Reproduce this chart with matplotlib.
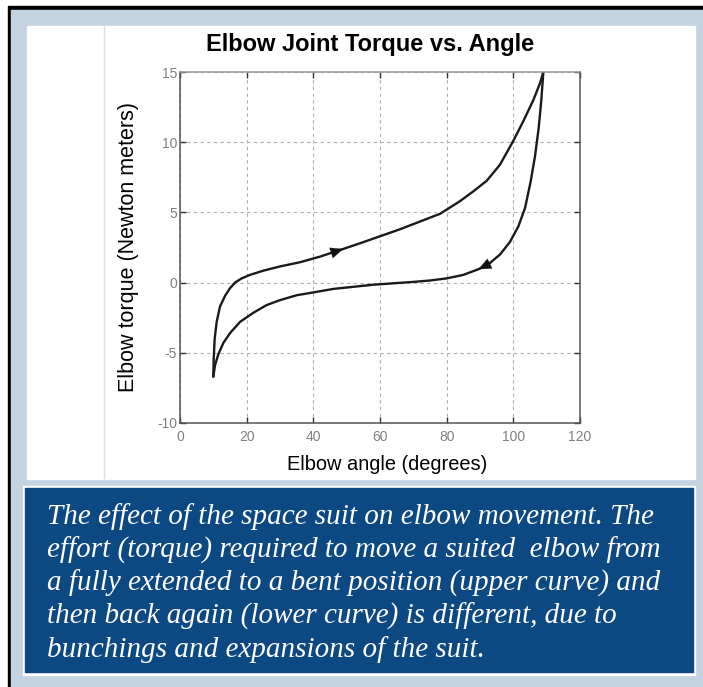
import matplotlib
matplotlib.use("Agg")
import matplotlib.pyplot as plt
from matplotlib.patches import Rectangle
from matplotlib.lines import Line2D

plt.rcParams["axes.unicode_minus"] = False

# flexing (upper curve), degrees / N*m
up_angle = [10.0, 10.1, 10.4, 11.0, 12.0, 13.5, 15.0, 16.5, 18.5, 21.0, 25.0, 30.0, 36.0, 42.0,
            49.0, 54.0, 60.0, 66.0, 72.0, 78.0, 84.0, 88.0, 92.0, 96.0, 100.0, 103.0, 106.0, 108.0, 109.0]
up_torque = [-6.7, -5.5, -4.0, -2.8, -1.7, -0.95, -0.4, 0.0, 0.3, 0.55, 0.85, 1.15, 1.45, 1.85,
             2.4, 2.8, 3.3, 3.8, 4.35, 4.9, 5.8, 6.5, 7.25, 8.4, 10.1, 11.5, 13.0, 14.2, 15.0]

# extending back (lower curve)
low_angle = [109.0, 108.4, 107.6, 106.5, 105.2, 103.5, 101.5, 99.0, 96.0, 92.5, 89.5, 85.0, 80.0, 75.0,
             70.0, 64.0, 58.0, 52.0, 46.0, 40.0, 35.0, 30.0, 26.0, 22.0, 18.0, 15.0, 13.0, 11.5, 10.5, 10.0]
low_torque = [15.0, 13.0, 11.0, 9.0, 7.2, 5.3, 4.0, 2.9, 2.0, 1.3, 0.95, 0.55, 0.3, 0.15,
              0.05, -0.05, -0.15, -0.3, -0.45, -0.7, -0.9, -1.25, -1.6, -2.15, -2.8, -3.6, -4.3, -5.1, -5.9, -6.7]

up_arrow_idx = 14
low_arrow_idx = 10

x_ticks = [0, 20, 40, 60, 80, 100, 120]
y_ticks = [-10, -5, 0, 5, 10, 15]

caption = [
    "The effect of the space suit on elbow movement. The",
    "effort (torque) required to move a suited  elbow from",
    "a fully extended to a bent position (upper curve) and",
    "then back again (lower curve) is different, due to",
    "bunchings and expansions of the suit.",
]

W, H = 703, 687
fig = plt.figure(figsize=(W / 100, H / 100), dpi=100)
fig.patch.set_facecolor("white")


def box(x, y, w, h, **kw):
    # pixel box (top-left origin) -> figure fraction
    fig.patches.append(Rectangle((x / W, 1 - (y + h) / H), w / W, h / H,
                                 transform=fig.transFigure, figure=fig, **kw))


box(0, 0, W, H, color="white", zorder=-5)
box(8, 6, W - 8, H - 6, color="black", zorder=-4)
box(11, 10, W - 11, H - 10, color="#c4d3e1", zorder=-3)
box(27, 26, 668, 453, color="white", zorder=-2)
box(23, 486, 672, 189, color="white", zorder=-2)
box(25, 488, 668, 184, color="#0c4882", zorder=-1)
fig.lines.append(Line2D([104 / W, 104 / W], [1 - 26 / H, 1 - 478 / H], transform=fig.transFigure,
                        color="#d5e0ea", lw=1))

ax = fig.add_axes([180 / W, 1 - 423 / H, 400 / W, 351 / H])
ax.plot(up_angle, up_torque, color="#1a1a1a", lw=1.7, solid_capstyle="round")
ax.plot(low_angle, low_torque, color="#1a1a1a", lw=1.7, solid_capstyle="round")

for xs, ys, i in [(up_angle, up_torque, up_arrow_idx), (low_angle, low_torque, low_arrow_idx)]:
    ax.annotate("", xy=(xs[i], ys[i]), xytext=(xs[i - 1], ys[i - 1]),
                arrowprops=dict(arrowstyle="-|>,head_length=0.7,head_width=0.3",
                                color="#111111", lw=0.1, mutation_scale=13,
                                shrinkA=0, shrinkB=0))

ax.set_xlim(0, 120)
ax.set_ylim(-10, 15)
ax.set_xticks(x_ticks)
ax.set_yticks(y_ticks)
ax.grid(True, color="#b0b0b0", linestyle=(0, (3, 3)), lw=0.8)
ax.tick_params(direction="in", top=True, right=True, length=4, width=1, color="#333333",
               labelsize=10, labelcolor="#808080")
ax.tick_params(axis="x", pad=5)
ax.tick_params(axis="y", pad=2)
for lab in ax.get_xticklabels() + ax.get_yticklabels():
    lab.set_family("Liberation Sans")
for s in ax.spines.values():
    s.set_color("#555555")
    s.set_linewidth(1.1)
ax.spines["top"].set_color("#999999")

ax.set_title("Elbow Joint Torque vs. Angle", fontsize=17, fontweight="bold",
             family="Liberation Sans", pad=15, x=0.475)
ax.set_xlabel("Elbow angle (degrees)", fontsize=14.4, family="Liberation Sans")
ax.set_ylabel("Elbow torque (Newton meters)", fontsize=15.5, family="Liberation Sans")
ax.xaxis.set_label_coords(0.518, -0.09)
ax.yaxis.set_label_coords(-0.103, 0.5)

for k, line in enumerate(caption):
    fig.text(47 / W, 1 - (517 + 33.2 * k) / H, line, color="white", fontsize=21,
             family="Liberation Serif", style="italic", va="center", ha="left")

fig.savefig("out.png", dpi=100)
